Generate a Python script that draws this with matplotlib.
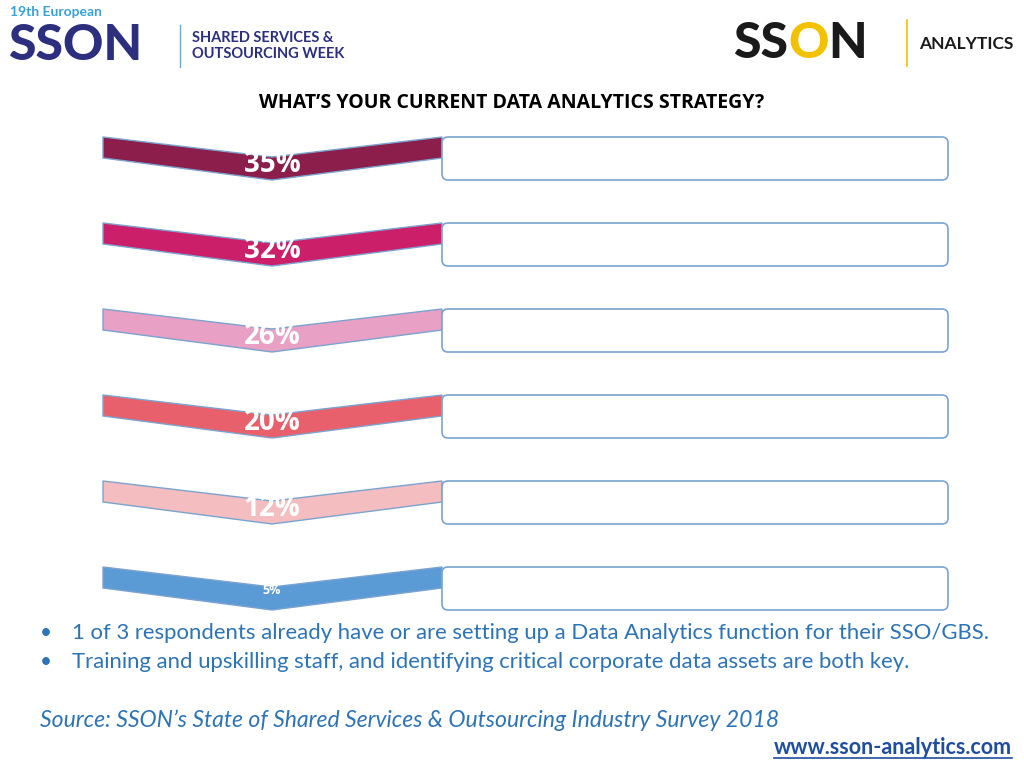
"""Slide recreation: data analytics strategy chevrons"""
import matplotlib
matplotlib.use("Agg")
import matplotlib.pyplot as plt
from matplotlib.patches import Polygon, FancyBboxPatch

plt.rcParams['font.family'] = ['Lato', 'DejaVu Sans']

# data
labels = ['35%', '32%', '26%', '20%', '12%', '5%']
colors = ['#8B1E4B', '#CC1F6A', '#E8A0C4', '#E8606B', '#F4BEC0', '#5B9BD5']
label_sizes = [20, 20, 20, 20, 20, 9]
bullets = ['1 of 3 respondents already have or are setting up a Data Analytics function for their SSO/GBS.',
           'Training and upskilling staff, and identifying critical corporate data assets are both key.']
source = 'Source: SSON\u2019s State of Shared Services & Outsourcing Industry Survey 2018'

fig = plt.figure(figsize=(10.24, 7.68), dpi=100)
ax = fig.add_axes([0, 0, 1, 1])
ax.set_xlim(0, 1024)
ax.set_ylim(768, 0)
ax.axis('off')
renderer = fig.canvas.get_renderer()

blue_text = '#2E74B5'
edge = '#7BA3D0'


def place_after(prev, txt, color):
    # put a text right after the previous one, in data coords
    bb = prev.get_window_extent(renderer).transformed(ax.transData.inverted())
    return ax.text(bb.x1, prev.get_position()[1], txt, color=color, fontsize=prev.get_fontsize(),
                   fontweight='black', va='center')


# header logos (approximated with text)
ax.text(10, 12, '19th European', color='#3AA0D8', fontsize=10, fontweight='bold', va='center')
ax.text(8, 46, 'SSON', color='#2B2F7E', fontsize=36, fontweight='black', va='center')
ax.plot([180, 180], [25, 67], color='#6FA8DC', lw=1)
ax.text(192, 46, 'SHARED SERVICES &\nOUTSOURCING WEEK', color='#2B2F7E', fontsize=10.5,
        fontweight='bold', va='center', linespacing=1.1)
s1 = ax.text(733, 43, 'SS', color='#1A1A1A', fontsize=36, fontweight='black', va='center')
s2 = place_after(s1, 'O', '#F2C200')
place_after(s2, 'N', '#1A1A1A')
ax.plot([907, 907], [20, 66], color='#F2C200', lw=1.2)
ax.text(919, 44, 'ANALYTICS', color='#1A1A1A', fontsize=12.5, fontweight='bold', va='center')

ax.text(512, 103, 'WHAT\u2019S YOUR CURRENT DATA ANALYTICS STRATEGY?', fontsize=14,
        fontweight='bold', ha='center', va='center', family=['Open Sans', 'DejaVu Sans'])

# chevrons and boxes
x0, xm, x1, xb = 103, 272, 442, 948
for i, (lab, col) in enumerate(zip(labels, colors)):
    top = 137 + 86 * i
    pts = [(x0, top), (xm, top + 20), (x1, top), (x1, top + 21), (xm, top + 43), (x0, top + 21)]
    ax.add_patch(Polygon(pts, closed=True, facecolor=col, edgecolor=edge, lw=1, zorder=2))
    ax.add_patch(FancyBboxPatch((x1, top), xb - x1, 43, boxstyle='round,pad=0,rounding_size=6',
                                facecolor='white', edgecolor=edge, lw=1.2, zorder=2))
    ax.text(xm, top + 27 if i < 5 else top + 23, lab, color='white', fontsize=label_sizes[i],
            fontweight='bold', ha='center', va='center', zorder=3,
            family=['Open Sans', 'DejaVu Sans'])

# bullets and source
for j, b in enumerate(bullets):
    y = 633 + 29 * j
    ax.text(40, y, '\u2022', color=blue_text, fontsize=15, va='center')
    ax.text(72, y, b, color=blue_text, fontsize=15.9, va='center')
ax.text(40, 720, source, color=blue_text, fontsize=16.6, style='italic', va='center')
link = ax.text(1012, 748, 'www.sson-analytics.com', color='#1F4E9E', fontsize=15.5,
               fontweight='bold', ha='right', va='center')
lb = link.get_window_extent(renderer).transformed(ax.transData.inverted())
ax.plot([lb.x0, lb.x1], [758, 758], color='#1F4E9E', lw=1.2)

fig.savefig('out.png', dpi=100)
